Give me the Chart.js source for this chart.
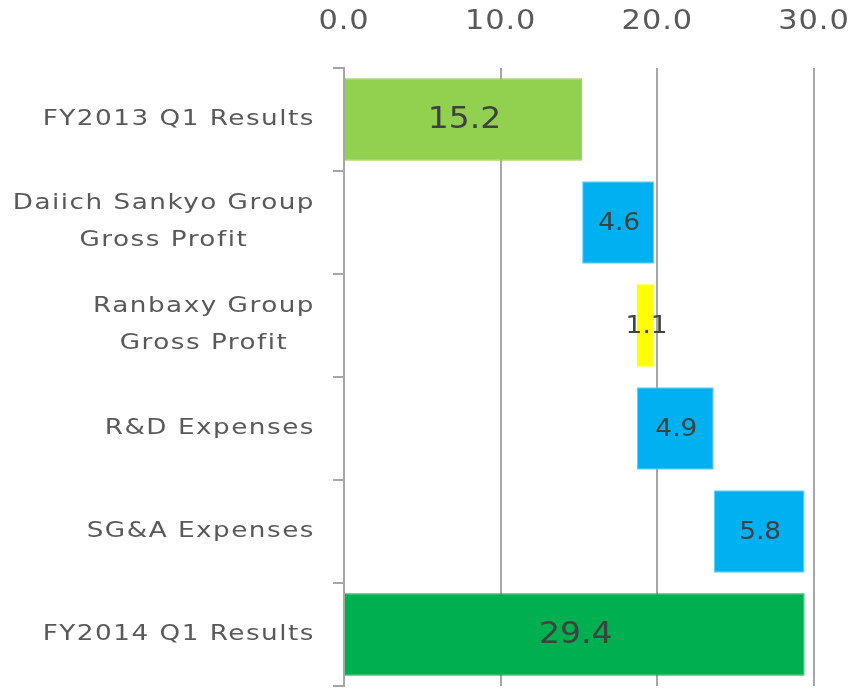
<!DOCTYPE html>
<html>
<head>
<meta charset="utf-8">
<script src="https://cdn.jsdelivr.net/npm/chart.js@4"></script>
<style>
  body { margin: 0; background: #fff; }
</style>
</head>
<body>
<canvas id="waterfall" width="848" height="691"></canvas>
<script>
// categories, top to bottom
const categories = [
  ["FY2013 Q1 Results"],
  ["Daiich Sankyo Group", "Gross Profit"],
  ["Ranbaxy Group", "Gross Profit"],
  ["R&D Expenses"],
  ["SG&A Expenses"],
  ["FY2014 Q1 Results"]
];
// floating bar start / end (billion yen)
const barStarts = [0, 15.2, 18.7, 18.7, 23.6, 0];
const barEnds = [15.2, 19.8, 19.8, 23.6, 29.4, 29.4];
const barLabels = ["15.2", "4.6", "1.1", "4.9", "5.8", "29.4"];
const barColors = ["#92D050", "#00B0F0", "#FFFF00", "#00B0F0", "#00B0F0", "#00B050"];
const xTicks = [0, 10, 20, 30];

const FONT = "'DejaVu Sans', sans-serif";
const TEXT = "#595959";
const AXIS = "#a6a6a6";

// draw text stretched sideways (the original uses a wide geometric face)
function wideText(ctx, str, x, y, sx) {
  ctx.save();
  ctx.translate(x, y);
  ctx.scale(sx, 1);
  ctx.fillText(str, 0, 0);
  ctx.restore();
}

// x tick labels, placed with the x scale
const xTickLabels = {
  id: "xTickLabels",
  afterDraw(chart) {
    const ctx = chart.ctx;
    const xs = chart.scales.x;
    ctx.save();
    ctx.fillStyle = TEXT;
    ctx.font = "26px " + FONT;
    ctx.letterSpacing = "0.8px";
    ctx.textAlign = "center";
    ctx.textBaseline = "middle";
    xs.ticks.forEach(t => {
      wideText(ctx, t.value.toFixed(1), xs.getPixelForValue(t.value), 22, 1.17);
    });
    ctx.restore();
  }
};

// value labels in the middle of each bar
const barValueLabels = {
  id: "barValueLabels",
  afterDatasetsDraw(chart) {
    const ctx = chart.ctx;
    const meta = chart.getDatasetMeta(0);
    ctx.save();
    ctx.fillStyle = "#404040";
    ctx.textAlign = "center";
    ctx.textBaseline = "middle";
    meta.data.forEach((bar, i) => {
      const big = i === 0 || i === meta.data.length - 1;
      ctx.font = (big ? "30px " : "24px ") + FONT;
      wideText(ctx, barLabels[i], (bar.x + bar.base) / 2 + 1, bar.y + 1, 1.1);
    });
    ctx.restore();
  }
};

// category labels: block right aligned, lines centred inside the block
const categoryLabels = {
  id: "categoryLabels",
  afterDraw(chart) {
    const ctx = chart.ctx;
    const yScale = chart.scales.y;
    const right = 315;
    const lineH = 37;
    const sx = 1.25;
    ctx.save();
    ctx.fillStyle = TEXT;
    ctx.font = "21px " + FONT;
    ctx.letterSpacing = "1.2px";
    ctx.textAlign = "center";
    ctx.textBaseline = "middle";
    categories.forEach((lines, i) => {
      const yc = yScale.getPixelForValue(i);
      const w = Math.max(...lines.map(l => ctx.measureText(l).width)) * sx;
      const xc = right - w / 2;
      lines.forEach((l, j) => {
        const y = yc + (j - (lines.length - 1) / 2) * lineH;
        wideText(ctx, l, xc, y, sx);
      });
    });
    ctx.restore();
  }
};

new Chart(document.getElementById("waterfall").getContext("2d"), {
  type: "bar",
  data: {
    labels: categories.map(c => c.join(" ")),
    datasets: [{
      data: barStarts.map((s, i) => [s, barEnds[i]]),
      backgroundColor: barColors,
      borderColor: barColors.map(c => c === "#00B0F0" ? "#66D0F6" : c),
      borderWidth: 1,
      borderSkipped: false,
      barPercentage: 0.8,
      categoryPercentage: 1.0
    }]
  },
  options: {
    indexAxis: "y",
    responsive: false,
    animation: false,
    layout: { padding: { right: 34, bottom: 5 } },
    plugins: {
      legend: { display: false },
      tooltip: { enabled: false }
    },
    scales: {
      x: {
        position: "top",
        min: xTicks[0],
        max: xTicks[xTicks.length - 1],
        afterBuildTicks: s => { s.ticks = xTicks.map(v => ({ value: v })); },
        ticks: { display: false },
        grid: { color: AXIS, lineWidth: 2, drawTicks: false },
        border: { display: false },
        afterFit: s => { s.height = 68; s.paddingLeft = 0; s.paddingRight = 0; }
      },
      y: {
        offset: true,
        ticks: { display: false },
        grid: {
          drawOnChartArea: false,
          offset: true,
          tickLength: 11,
          color: AXIS,
          lineWidth: 2
        },
        border: { display: true, color: AXIS, width: 2 },
        afterFit: s => { s.width = 344; }
      }
    }
  },
  plugins: [barValueLabels, categoryLabels, xTickLabels]
});
</script>
</body>
</html>
